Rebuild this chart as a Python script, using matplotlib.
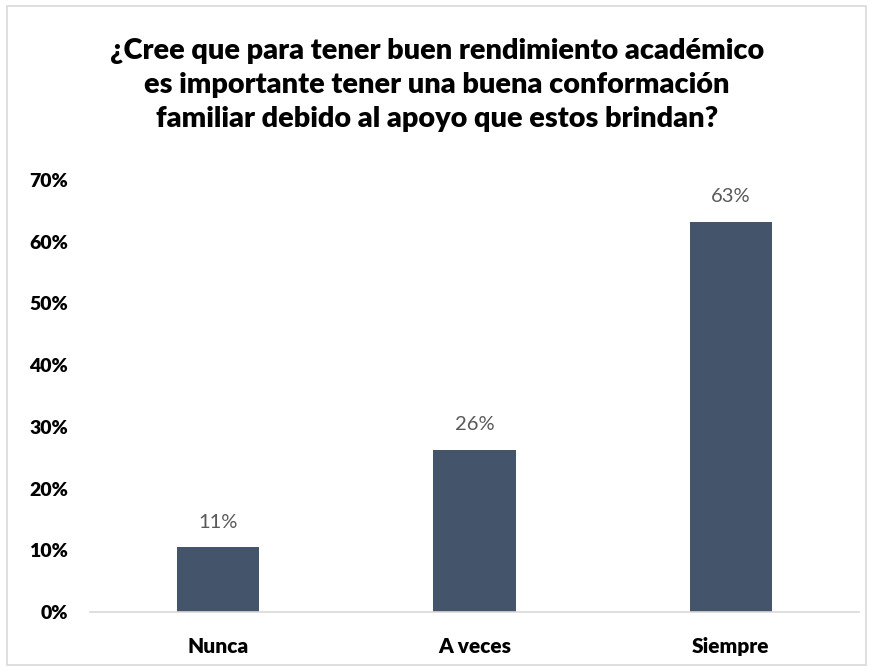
import matplotlib
matplotlib.use("Agg")
import matplotlib.pyplot as plt
from matplotlib.patches import Rectangle
from matplotlib.ticker import FuncFormatter

categories = ["Nunca", "A veces", "Siempre"]
values = [10.5, 26.3, 63.2]
labels = ["11%", "26%", "63%"]
yticks = [0, 10, 20, 30, 40, 50, 60, 70]
title = ("¿Cree que para tener buen rendimiento académico\n"
         "es importante tener una buena conformación\n"
         "familiar debido al apoyo que estos brindan?")

plt.rcParams['font.family'] = ['Lato', 'DejaVu Sans']
W = "heavy"

fig = plt.figure(figsize=(8.75, 6.72), dpi=100)
fig.patches.append(Rectangle((7/875, 1 - 665/672), 859/875, 659/672,
                             transform=fig.transFigure, fill=False,
                             edgecolor="#D9D9D9", linewidth=1.2))

ax = fig.add_axes([90/875, 1 - 612/672, 769/875, (612 - 180)/672])
x = list(range(len(categories)))
bars = ax.bar(x, values, width=0.32, color="#44546A")
ax.set_xlim(-0.5, 2.5)
ax.set_ylim(0, 70)
ax.set_yticks(yticks)
ax.yaxis.set_major_formatter(FuncFormatter(lambda v, p: f"{int(v)}%"))
ax.set_xticks(x)
ax.set_xticklabels(categories, fontsize=15, fontweight=W, color="black")
for t in ax.get_yticklabels():
    t.set_fontsize(14)
    t.set_fontweight(W)
    t.set_color("black")
ax.tick_params(axis="both", length=0)
ax.tick_params(axis="y", pad=16)
ax.tick_params(axis="x", pad=18)
for s in ["top", "right", "left"]:
    ax.spines[s].set_visible(False)
ax.spines["bottom"].set_color("#D9D9D9")
ax.spines["bottom"].set_linewidth(1.2)

for xi, v, lab in zip(x, values, labels):
    ax.annotate(lab, (xi, v), xytext=(0, 12), textcoords="offset points",
                ha="center", va="bottom", fontsize=14.5, color="#595959")

fig.text(437/875, 1 - 85/672, title, ha="center", va="center",
         fontsize=20.8, fontweight=W, color="black", linespacing=1.38)

fig.savefig("out.png", dpi=100)
